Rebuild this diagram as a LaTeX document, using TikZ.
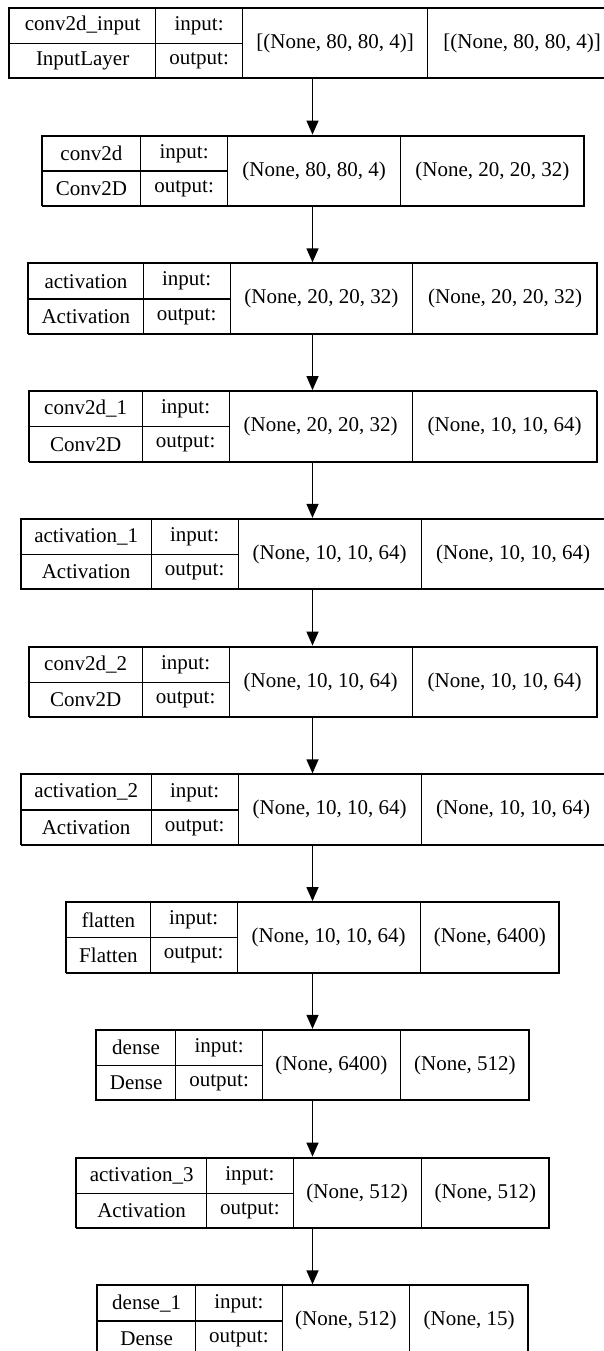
\documentclass[tikz,border=0pt]{standalone}
\usepackage{fontspec}
\setmainfont{Liberation Serif}
\usetikzlibrary{arrows.meta}

\begin{document}
\begin{tikzpicture}[x=1pt, y=-1pt, font=\fontsize{21}{25}\selectfont,
  cell/.style={draw=black, line width=1.3pt, inner sep=0pt, anchor=north west, minimum height=35.25pt},
  tall/.style={cell, minimum height=70.5pt},
  frame/.style={draw=black, line width=1.3pt, inner sep=0pt, minimum height=70.5pt}]
\useasboundingbox (0,0) rectangle (603,1351);
% conv2d_input
\node[frame, minimum width=607pt] (l1) at (312.5,42.75) {};
\node[cell, minimum width=146pt] (l1name) at (9,7.5) {conv2d\_input};
\node[cell, minimum width=146pt] (l1type) at (9,42.75) {InputLayer};
\node[cell, minimum width=87pt] (l1in) at (155,7.5) {input:};
\node[cell, minimum width=87pt] (l1out) at (155,42.75) {output:};
\node[tall, minimum width=185pt] (l1ishape) at (242,7.5) {[(None, 80, 80, 4)]};
\node[tall, minimum width=189pt] (l1oshape) at (427,7.5) {[(None, 80, 80, 4)]};
% conv2d
\node[frame, minimum width=542pt] (l2) at (312.5,170.5) {};
\node[cell, minimum width=98.5pt] (l2name) at (41.5,135.25) {conv2d};
\node[cell, minimum width=98.5pt] (l2type) at (41.5,170.5) {Conv2D};
\node[cell, minimum width=87pt] (l2in) at (140,135.25) {input:};
\node[cell, minimum width=87pt] (l2out) at (140,170.5) {output:};
\node[tall, minimum width=173pt] (l2ishape) at (227,135.25) {(None, 80, 80, 4)};
\node[tall, minimum width=183.5pt] (l2oshape) at (400,135.25) {(None, 20, 20, 32)};
% activation
\node[frame, minimum width=569pt] (l3) at (312.5,298.25) {};
\node[cell, minimum width=114.5pt] (l3name) at (28,263) {activation};
\node[cell, minimum width=114.5pt] (l3type) at (28,298.25) {Activation};
\node[cell, minimum width=87pt] (l3in) at (142.5,263) {input:};
\node[cell, minimum width=87pt] (l3out) at (142.5,298.25) {output:};
\node[tall, minimum width=182.5pt] (l3ishape) at (229.5,263) {(None, 20, 20, 32)};
\node[tall, minimum width=185pt] (l3oshape) at (412,263) {(None, 20, 20, 32)};
% conv2d_1
\node[frame, minimum width=568pt] (l4) at (312.5,426) {};
\node[cell, minimum width=113pt] (l4name) at (28.5,390.75) {conv2d\_1};
\node[cell, minimum width=113pt] (l4type) at (28.5,426) {Conv2D};
\node[cell, minimum width=87pt] (l4in) at (141.5,390.75) {input:};
\node[cell, minimum width=87pt] (l4out) at (141.5,426) {output:};
\node[tall, minimum width=183pt] (l4ishape) at (228.5,390.75) {(None, 20, 20, 32)};
\node[tall, minimum width=185pt] (l4oshape) at (411.5,390.75) {(None, 10, 10, 64)};
% activation_1
\node[frame, minimum width=584pt] (l5) at (312.5,553.75) {};
\node[cell, minimum width=130pt] (l5name) at (20.5,518.5) {activation\_1};
\node[cell, minimum width=130pt] (l5type) at (20.5,553.75) {Activation};
\node[cell, minimum width=87pt] (l5in) at (150.5,518.5) {input:};
\node[cell, minimum width=87pt] (l5out) at (150.5,553.75) {output:};
\node[tall, minimum width=183pt] (l5ishape) at (237.5,518.5) {(None, 10, 10, 64)};
\node[tall, minimum width=184pt] (l5oshape) at (420.5,518.5) {(None, 10, 10, 64)};
% conv2d_2
\node[frame, minimum width=568pt] (l6) at (312.5,681.5) {};
\node[cell, minimum width=113pt] (l6name) at (28.5,646.25) {conv2d\_2};
\node[cell, minimum width=113pt] (l6type) at (28.5,681.5) {Conv2D};
\node[cell, minimum width=87pt] (l6in) at (141.5,646.25) {input:};
\node[cell, minimum width=87pt] (l6out) at (141.5,681.5) {output:};
\node[tall, minimum width=183pt] (l6ishape) at (228.5,646.25) {(None, 10, 10, 64)};
\node[tall, minimum width=185pt] (l6oshape) at (411.5,646.25) {(None, 10, 10, 64)};
% activation_2
\node[frame, minimum width=584pt] (l7) at (312.5,809.25) {};
\node[cell, minimum width=130pt] (l7name) at (20.5,774) {activation\_2};
\node[cell, minimum width=130pt] (l7type) at (20.5,809.25) {Activation};
\node[cell, minimum width=87pt] (l7in) at (150.5,774) {input:};
\node[cell, minimum width=87pt] (l7out) at (150.5,809.25) {output:};
\node[tall, minimum width=183pt] (l7ishape) at (237.5,774) {(None, 10, 10, 64)};
\node[tall, minimum width=184pt] (l7oshape) at (420.5,774) {(None, 10, 10, 64)};
% flatten
\node[frame, minimum width=493pt] (l8) at (312.5,937) {};
\node[cell, minimum width=83.5pt] (l8name) at (66,901.75) {flatten};
\node[cell, minimum width=83.5pt] (l8type) at (66,937) {Flatten};
\node[cell, minimum width=87pt] (l8in) at (149.5,901.75) {input:};
\node[cell, minimum width=87pt] (l8out) at (149.5,937) {output:};
\node[tall, minimum width=183pt] (l8ishape) at (236.5,901.75) {(None, 10, 10, 64)};
\node[tall, minimum width=139.5pt] (l8oshape) at (419.5,901.75) {(None, 6400)};
% dense
\node[frame, minimum width=433pt] (l9) at (312.5,1064.75) {};
\node[cell, minimum width=79pt] (l9name) at (96,1029.5) {dense};
\node[cell, minimum width=79pt] (l9type) at (96,1064.75) {Dense};
\node[cell, minimum width=87pt] (l9in) at (175,1029.5) {input:};
\node[cell, minimum width=87pt] (l9out) at (175,1064.75) {output:};
\node[tall, minimum width=137.5pt] (l9ishape) at (262,1029.5) {(None, 6400)};
\node[tall, minimum width=129.5pt] (l9oshape) at (399.5,1029.5) {(None, 512)};
% activation_3
\node[frame, minimum width=473pt] (l10) at (312.5,1192.5) {};
\node[cell, minimum width=130pt] (l10name) at (76,1157.25) {activation\_3};
\node[cell, minimum width=130pt] (l10type) at (76,1192.5) {Activation};
\node[cell, minimum width=86.5pt] (l10in) at (206,1157.25) {input:};
\node[cell, minimum width=86.5pt] (l10out) at (206,1192.5) {output:};
\node[tall, minimum width=128pt] (l10ishape) at (292.5,1157.25) {(None, 512)};
\node[tall, minimum width=128.5pt] (l10oshape) at (420.5,1157.25) {(None, 512)};
% dense_1
\node[frame, minimum width=431pt] (l11) at (312.5,1320.25) {};
\node[cell, minimum width=98pt] (l11name) at (97,1285) {dense\_1};
\node[cell, minimum width=98pt] (l11type) at (97,1320.25) {Dense};
\node[cell, minimum width=86.5pt] (l11in) at (195,1285) {input:};
\node[cell, minimum width=86.5pt] (l11out) at (195,1320.25) {output:};
\node[tall, minimum width=127.5pt] (l11ishape) at (281.5,1285) {(None, 512)};
\node[tall, minimum width=119pt] (l11oshape) at (409,1285) {(None, 15)};
\path [-{Triangle[length=14pt,width=12pt]}, line width=1.3pt, draw=black] (l1) edge (l2);
\path [-{Triangle[length=14pt,width=12pt]}, line width=1.3pt, draw=black] (l2) edge (l3);
\path [-{Triangle[length=14pt,width=12pt]}, line width=1.3pt, draw=black] (l3) edge (l4);
\path [-{Triangle[length=14pt,width=12pt]}, line width=1.3pt, draw=black] (l4) edge (l5);
\path [-{Triangle[length=14pt,width=12pt]}, line width=1.3pt, draw=black] (l5) edge (l6);
\path [-{Triangle[length=14pt,width=12pt]}, line width=1.3pt, draw=black] (l6) edge (l7);
\path [-{Triangle[length=14pt,width=12pt]}, line width=1.3pt, draw=black] (l7) edge (l8);
\path [-{Triangle[length=14pt,width=12pt]}, line width=1.3pt, draw=black] (l8) edge (l9);
\path [-{Triangle[length=14pt,width=12pt]}, line width=1.3pt, draw=black] (l9) edge (l10);
\path [-{Triangle[length=14pt,width=12pt]}, line width=1.3pt, draw=black] (l10) edge (l11);
\end{tikzpicture}
\end{document}
